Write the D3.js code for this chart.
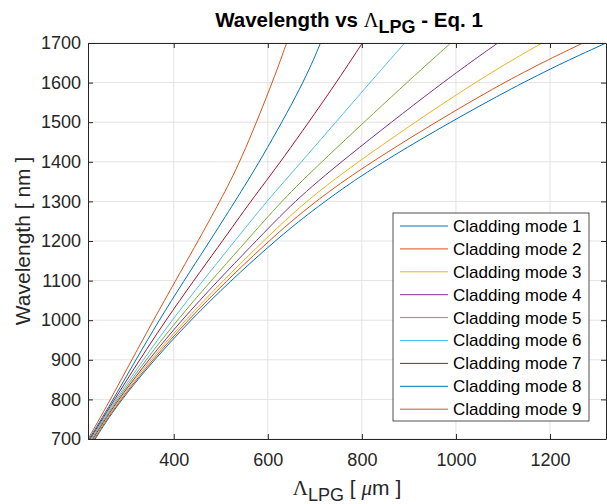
<!DOCTYPE html>
<html>
<head>
<meta charset="utf-8">
<script src="https://cdn.jsdelivr.net/npm/d3@7"></script>
<style>
  body { margin: 0; background: #fff; }
  text { font-family: "Liberation Sans", Arial, Helvetica, sans-serif; }
</style>
</head>
<body>
<svg id="chart" width="607" height="504"></svg>
<script>
var wavelengths = [700, 800, 1000, 1200, 1300, 1400, 1600, 1700];

// grating period [um] for each cladding mode at those wavelengths
var mode1 = [233, 286, 431, 612, 720, 840, 1135, 1319];
var mode2 = [231, 284, 426, 600, 700, 818, 1095, 1270];
var mode3 = [229, 282, 420, 590, 680, 790, 1036, 1183];
var mode4 = [228, 280, 413, 575, 656, 755, 970, 1089];
var mode5 = [226, 278, 404, 555, 628, 714, 895, 989];
var mode6 = [224, 276, 394, 530, 597, 672, 817, 891];
var mode7 = [222, 274, 381, 504, 563, 628, 746, 801];
var mode8 = [220, 272, 367, 477, 530, 583, 677, 712];
var mode9 = [217.7, 266, 356, 452, 498, 542, 610, 640];

var seriesNames = ["Cladding mode 1", "Cladding mode 2", "Cladding mode 3",
    "Cladding mode 4", "Cladding mode 5", "Cladding mode 6",
    "Cladding mode 7", "Cladding mode 8", "Cladding mode 9"];
var seriesValues = [mode1, mode2, mode3, mode4, mode5, mode6, mode7, mode8, mode9];

var xTicks = [400, 600, 800, 1000, 1200];
var yTicks = [700, 800, 900, 1000, 1100, 1200, 1300, 1400, 1500, 1600, 1700];

var colors = ["#0072BD", "#D95319", "#EDB120", "#7E2F8E", "#77AC30",
    "#4DBEEE", "#A2142F", "#0072BD", "#D95319"];

var margin = {top: 43, right: 1, bottom: 65, left: 88},
    width = 607 - margin.left - margin.right,
    height = 504 - margin.top - margin.bottom;

var x = d3.scaleLinear().domain([217.7, 1319]).range([0, width]);
var y = d3.scaleLinear().domain([700, 1700]).range([height, 0]);

var svg = d3.select("#chart");
var g = svg.append("g")
    .attr("transform", "translate(" + margin.left + "," + margin.top + ")");

g.append("clipPath").attr("id", "clip")
    .append("rect").attr("width", width).attr("height", height);

// grid
g.append("g").selectAll("line").data(xTicks).enter().append("line")
    .attr("x1", function(d) { return x(d); })
    .attr("x2", function(d) { return x(d); })
    .attr("y1", 0).attr("y2", height)
    .attr("stroke", "#e3e3e3").attr("stroke-width", 1);
g.append("g").selectAll("line").data(yTicks).enter().append("line")
    .attr("y1", function(d) { return y(d); })
    .attr("y2", function(d) { return y(d); })
    .attr("x1", 0).attr("x2", width)
    .attr("stroke", "#e3e3e3").attr("stroke-width", 1);

// curves
var line = d3.line()
    .curve(d3.curveBasis)
    .x(function(d) { return x(d[0]); })
    .y(function(d) { return y(d[1]); });

g.append("g").attr("clip-path", "url(#clip)")
    .selectAll("path").data(seriesValues).enter().append("path")
    .attr("d", function(vals) {
        return line(vals.map(function(v, i) { return [v, wavelengths[i]]; }));
    })
    .attr("fill", "none")
    .attr("stroke", function(d, i) { return colors[i]; })
    .attr("stroke-width", 1);

// axes (ticks pointing inward, box on)
var axisColor = "#262626";
var fmt = d3.format("d");
g.append("g")
    .attr("transform", "translate(0," + height + ")")
    .call(d3.axisBottom(x).tickValues(xTicks).tickFormat(fmt).tickSizeInner(-5).tickSizeOuter(0).tickPadding(14));
g.append("g")
    .call(d3.axisLeft(y).tickValues(yTicks).tickFormat(fmt).tickSizeInner(-5).tickSizeOuter(0).tickPadding(7));
g.append("g")
    .call(d3.axisTop(x).tickValues(xTicks).tickSizeInner(-5).tickSizeOuter(0).tickFormat(""));
g.append("g")
    .attr("transform", "translate(" + width + ",0)")
    .call(d3.axisRight(y).tickValues(yTicks).tickSizeInner(-5).tickSizeOuter(0).tickFormat(""));

g.selectAll(".domain, .tick line").attr("stroke", axisColor);
g.selectAll(".tick text")
    .attr("fill", axisColor)
    .style("font-size", "18px")
    .style("font-family", "'Liberation Sans', Arial, sans-serif");

// title
var title = svg.append("text")
    .attr("x", 349).attr("y", 27)
    .attr("text-anchor", "middle")
    .style("font-size", "20.5px").style("font-weight", "bold").attr("fill", "#000");
title.append("tspan").text("Wavelength vs ");
title.append("tspan").text("\u039B").style("font-family", "'Liberation Serif', 'DejaVu Serif', serif").style("font-weight", "normal");
title.append("tspan").text("LPG").attr("dy", 6).style("font-size", "18px");
title.append("tspan").text(" - Eq. 1").attr("dy", -6);

// x label
var xl = svg.append("text")
    .attr("x", 347).attr("y", 495)
    .attr("text-anchor", "middle")
    .style("font-size", "21px").attr("fill", axisColor);
xl.append("tspan").text("\u039B").style("font-family", "'Liberation Serif', 'DejaVu Serif', serif");
xl.append("tspan").text("LPG").attr("dy", 6).style("font-size", "18px");
xl.append("tspan").text(" [ ").attr("dy", -6);
xl.append("tspan").text("\u03BC").style("font-family", "'Liberation Serif', 'DejaVu Serif', serif").style("font-style", "italic");
xl.append("tspan").text("m ]");

// y label
svg.append("text")
    .attr("transform", "translate(30,241) rotate(-90)")
    .attr("text-anchor", "middle")
    .style("font-size", "21px").attr("fill", axisColor)
    .text("Wavelength [ nm ]");

// legend
var lg = svg.append("g").attr("transform", "translate(393,213)");
lg.append("rect").attr("width", 196).attr("height", 208)
    .attr("fill", "#fff").attr("stroke", axisColor).attr("stroke-width", 0.8);
var rows = lg.selectAll("g.row").data(seriesNames).enter().append("g")
    .attr("class", "row")
    .attr("transform", function(d, i) { return "translate(0," + (13 + i * 22.9) + ")"; });
rows.append("line")
    .attr("x1", 7).attr("x2", 55)
    .attr("stroke", function(d, i) { return colors[i]; })
    .attr("stroke-width", 1);
rows.append("text")
    .attr("x", 60).attr("dy", "0.35em")
    .style("font-size", "17px").attr("fill", "#000")
    .text(function(d) { return d; });
</script>
</body>
</html>
